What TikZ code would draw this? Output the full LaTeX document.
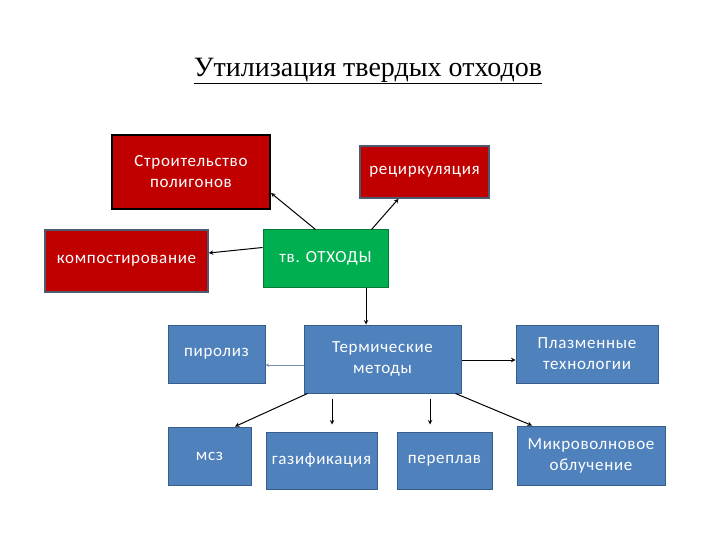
\documentclass[tikz,border=0pt]{standalone}
\usepackage{fontspec}
\setmainfont{Carlito}[LetterSpace=4]
\newfontfamily\titlefont{Liberation Serif}
\definecolor{boxred}{RGB}{192,0,0}
\definecolor{boxgreen}{RGB}{0,176,80}
\definecolor{boxblue}{RGB}{79,129,189}
\definecolor{blueline}{RGB}{56,93,138}
\definecolor{redline}{RGB}{80,90,110}
\tikzset{
  box/.style={rectangle, text=white, font=\fontsize{17}{21}\selectfont, align=center, inner sep=0pt},
  redbox/.style={box, fill=boxred, draw=redline, line width=1.5pt},
  greenbox/.style={box, fill=boxgreen, draw=boxgreen!70!black, line width=1pt},
  bluebox/.style={box, fill=boxblue, draw=blueline, line width=1pt},
  link/.style={->, >=stealth, line width=1pt, black}
}
\begin{document}
\begin{tikzpicture}[x=1pt,y=-1pt]
    \useasboundingbox[fill=white] (0,0) rectangle (720,540);
    \node[font=\titlefont\fontsize{28}{32}\selectfont] (Title) at (368,71) {\underline{Утилизация твердых отходов}};

    \node[redbox, draw=black, line width=2pt, minimum width=158pt, minimum height=74pt] (Str) at (191,172) {Строительство\\полигонов};
    \node[redbox, minimum width=129pt, minimum height=52pt] (Rec) at (424.5,172) {\raisebox{-4pt}{рециркуляция}};
    \node[redbox, minimum width=163pt, minimum height=62pt] (Komp) at (126.5,261) {\raisebox{-4pt}{компостирование}};
    \node[greenbox, minimum width=125pt, minimum height=57pt] (TO) at (325.5,258.5) {тв. ОТХОДЫ};

    \node[bluebox, minimum width=97pt, minimum height=58pt] (Pir) at (216.5,354) {пиролиз};
    \node[bluebox, minimum width=157pt, minimum height=68pt] (Term) at (382.5,359) {Термические\\методы};
    \node[bluebox, minimum width=142pt, minimum height=58pt] (Plaz) at (587,354) {Плазменные\\технологии};

    \node[bluebox, minimum width=83pt, minimum height=58pt] (MSZ) at (209.5,456) {мсз};
    \node[bluebox, minimum width=111pt, minimum height=57pt] (Gaz) at (321.5,460.5) {газификация};
    \node[bluebox, minimum width=95pt, minimum height=57pt] (Perepl) at (444.5,460.5) {переплав};
    \node[bluebox, minimum width=148pt, minimum height=59pt] (Mikro) at (591,455.5) {Микроволновое\\облучение};

    \draw[link] ([xshift=-10pt]TO.north) -- ([yshift=-21pt]Str.east);
    \draw[link] ([xshift=46pt]TO.north) -- ([xshift=-26pt]Rec.south);
    \draw[link] ([yshift=11pt]TO.west) -- ([yshift=8pt]Komp.east);
    \draw[link] ([xshift=40.5pt]TO.south) -- ([xshift=-16.5pt]Term.north);
    \draw[link, blueline!70, line width=0.6pt] ([yshift=-6pt]Term.west) -- ([yshift=-11pt]Pir.east);
    \draw[link] ([yshift=-1pt]Term.east) -- ([yshift=-6pt]Plaz.west);
    \draw[link] ([xshift=4pt]Term.south west) -- ([xshift=25.5pt]MSZ.north);
    \draw[link] ([xshift=-50.5pt,yshift=-5pt]Term.south) -- ([xshift=10.5pt,yshift=7pt]Gaz.north);
    \draw[link] ([xshift=47.5pt,yshift=-5pt]Term.south) -- ([xshift=-14.5pt,yshift=7pt]Perepl.north);
    \draw[link] ([xshift=-6pt]Term.south east) -- ([xshift=-59pt]Mikro.north);
\end{tikzpicture}
\end{document}
